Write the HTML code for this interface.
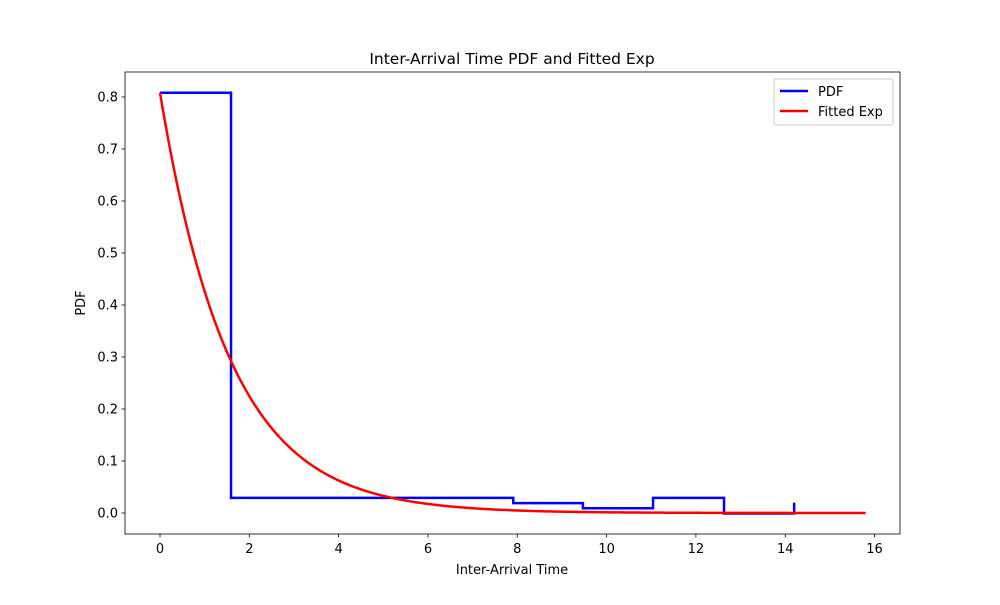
<!DOCTYPE html>
<html><head><meta charset="utf-8"><style>
body{margin:0;background:#fff;font-family:"Liberation Sans","DejaVu Sans",sans-serif}
svg text{font-family:"DejaVu Sans","Liberation Sans",sans-serif}
</style></head><body>
<svg id="c" width="1000" height="600" xmlns="http://www.w3.org/2000/svg"></svg>
<script>
const stepX=[0,1.59,7.91,9.47,11.04,12.63,14.2,14.2];
const stepY=[0.808,0.029,0.019,0.009,0.029,-0.001,-0.001,0.02];
const expAmp=0.808;
const expRate=0.64;
const expMaxX=15.8;
const xTicks=[0,2,4,6,8,10,12,14,16];
const yTicks=[0.0,0.1,0.2,0.3,0.4,0.5,0.6,0.7,0.8];
const L=125,R=900,T=72,B=534,xmin=-0.784,xmax=16.57,ymin=-0.0404,ymax=0.848;
const sx=v=>L+(v-xmin)/(xmax-xmin)*(R-L);
const sy=v=>B-(v-ymin)/(ymax-ymin)*(B-T);
const svg=document.getElementById('c');const NS='http://www.w3.org/2000/svg';
function mk(t,a,txt){const e=document.createElementNS(NS,t);for(const k in a)e.setAttribute(k,a[k]);if(txt!=null)e.textContent=txt;svg.appendChild(e);return e;}
let e;
e=mk('rect',{x:L,y:T,width:R-L,height:B-T,fill:'none',stroke:'#000','stroke-width':0.8});


xTicks.forEach(v=>{const x=sx(v);
e=mk('line',{x1:x,x2:x,y1:B,y2:B+3.5,stroke:'#000','stroke-width':0.8});


e=mk('text',{x:x,y:B+19,'font-size':13,'text-anchor':'middle'},String(v));

});
yTicks.forEach(v=>{const y=sy(v);
e=mk('line',{x1:L-3.5,x2:L,y1:y,y2:y,stroke:'#000','stroke-width':0.8});


e=mk('text',{x:L-7,y:y+4.7,'font-size':13,'text-anchor':'end'},v.toFixed(1));

});
let d='';
for(let i=0;i<stepX.length;i++){
 if(i===0)d+=`M${sx(stepX[0])},${sy(stepY[0])}`;
 else d+=`L${sx(stepX[i])},${sy(stepY[i-1])}L${sx(stepX[i])},${sy(stepY[i])}`;
}
e=mk('path',{d:d,fill:'none',stroke:'#0000ff','stroke-width':2.5});


let d2='';
for(let i=0;i<=300;i++){const x=expMaxX*i/300;d2+=(i?'L':'M')+sx(x)+','+sy(expAmp*Math.exp(-expRate*x));}
e=mk('path',{d:d2,fill:'none',stroke:'#ff0000','stroke-width':2.5});


e=mk('text',{x:512,y:64,'font-size':15.5,'text-anchor':'middle'},'Inter-Arrival Time PDF and Fitted Exp');


e=mk('text',{x:512,y:574,'font-size':13,'text-anchor':'middle'},'Inter-Arrival Time');


e=mk('text',{x:85,y:303,'font-size':13,'text-anchor':'middle',transform:'rotate(-90 85 303)'},'PDF');


e=mk('rect',{x:774,y:79,width:119,height:46,fill:'#fff',stroke:'#ccc','stroke-width':1,rx:2});


e=mk('line',{x1:780,x2:808,y1:91,y2:91,stroke:'#0000ff','stroke-width':2.5});


e=mk('text',{x:818,y:96,'font-size':13},'PDF');


e=mk('line',{x1:780,x2:808,y1:111,y2:111,stroke:'#ff0000','stroke-width':2.5});


e=mk('text',{x:818,y:116,'font-size':13},'Fitted Exp');


</script></body></html>
